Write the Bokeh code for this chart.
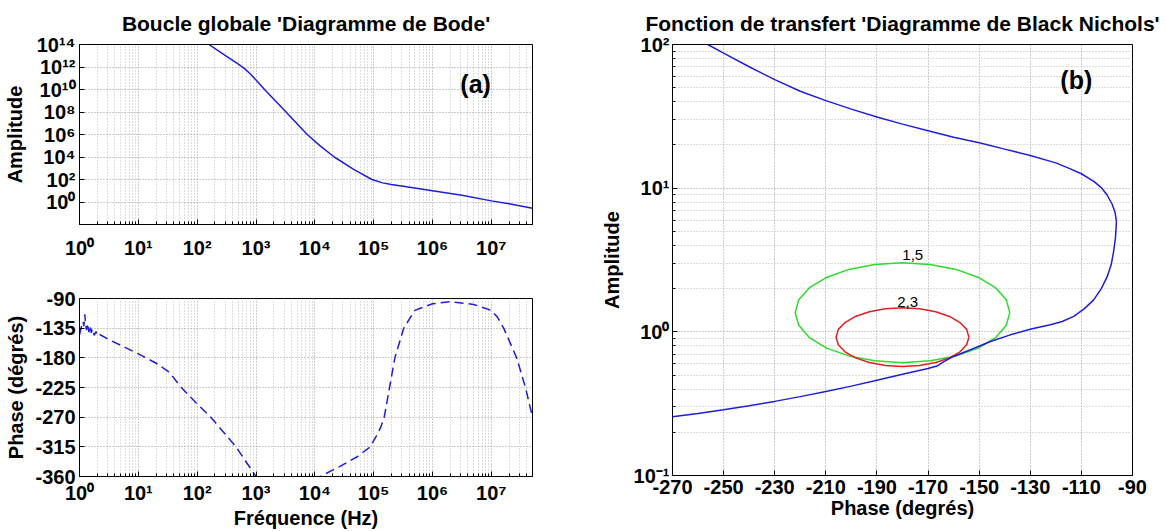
from bokeh.plotting import figure
from bokeh.models import FixedTicker, Range1d
from bokeh.layouts import row, column
from bokeh.embed import file_html
from bokeh.resources import INLINE
from bokeh.core.properties import value

FONT = "Liberation Sans"
BLUE = "#1f1fd2"
GREEN = "#2fd82f"
RED = "#e02020"

# ---------------- data ----------------
bode_freq = [158, 316, 501, 631, 794, 1000, 1396, 3236, 7413, 12589, 21380, 45709,
             93325, 141254, 199526, 316228, 1e6, 3.16e6, 1e7, 2e7, 5e7]
bode_amp = [1e14, 8.9e12, 1.78e12, 7.6e11, 2.5e11, 7.1e10, 1e10, 1e8, 1e6, 8.9e4, 1e4, 794,
            100, 50, 35.5, 25, 10, 4, 1.26, 0.71, 0.28]

phase_freq = [1.0, 1.047, 1.096, 1.148, 1.189, 1.23, 1.274, 1.318, 1.38, 1.445,
              1.514, 1.585, 1.66, 1.778, 1.905, 2.04, 2.24, 2.95, 10, 20.9, 31.6,
              39.8, 50.1, 70.8, 100, 170, 457, 1000, 3160, 1.23e4, 2.63e4, 5.25e4,
              8.7e4, 1.12e5, 1.32e5, 1.51e5, 1.86e5, 2.29e5, 3.24e5, 5.0e5, 1e6, 2e6,
              5e6, 1e7, 1.26e7, 1.62e7, 2.69e7, 3.8e7, 5e7]
phase_deg = [-145, -138, -130, -125, -132, -114, -130, -138, -128, -141,
             -131, -142, -136, -146, -140, -147, -145, -151, -174, -189, -200,
             -210, -222, -236, -250, -270, -315, -360, -385, -360, -345, -330,
             -315, -298, -285, -270, -225, -180, -135, -108, -98, -95,
             -99, -108, -118, -135, -180, -225, -270]

nichols_phase = [-256.2, -250, -240, -230, -220, -210, -200, -190, -180, -170, -160,
                 -150, -140, -130, -120, -115, -110, -105, -102, -100, -98, -96.8,
                 -96.3, -96.5, -96.7, -97.3, -98.3, -99.9, -102.2, -105.2, -108.8,
                 -113, -117.5, -122.1, -129.7, -137.8, -145.6, -153.4, -160, -164,
                 -166.5, -170, -180, -190, -200, -210, -220, -230, -240, -250, -260, -270]
nichols_amp = [100, 87.1, 70, 56.9, 47.3, 40.7, 35.5, 31.3, 27.9, 25.1, 22.6,
               20.7, 18.7, 16.9, 15.0, 13.8, 12.6, 11.1, 10.0, 9.0, 7.76, 6.76,
               5.89, 5.0, 4.47, 3.71, 2.95, 2.42, 2.0, 1.67, 1.45,
               1.28, 1.18, 1.12, 1.045, 0.953, 0.857, 0.75, 0.674, 0.617,
               0.578, 0.556, 0.507, 0.460, 0.419, 0.384, 0.354, 0.328, 0.306, 0.287, 0.270, 0.256]

m15_phase = [-138, -139.4, -143.6, -150.3, -159, -169.1, -180, -190.9, -201, -209.7,
             -216.4, -220.6, -222, -220.6, -216.4, -209.7, -201, -190.9, -180, -169.1,
             -159, -150.3, -143.6, -139.4, -138]
m15_amp = [1.36, 1.67, 2.03, 2.39, 2.72, 2.94, 3.03, 2.94, 2.72, 2.39,
           2.03, 1.67, 1.36, 1.11, 0.91, 0.77, 0.68, 0.63, 0.61, 0.63,
           0.68, 0.77, 0.91, 1.11, 1.36]

m23_phase = [-154, -154.9, -157.5, -161.6, -167, -173.3, -180, -186.7, -193, -198.4,
             -202.5, -205.1, -206, -205.1, -202.5, -198.4, -193, -186.7, -180, -173.3,
             -167, -161.6, -157.5, -154.9, -154]
m23_amp = [0.918, 1.04, 1.16, 1.28, 1.38, 1.45, 1.47, 1.45, 1.38, 1.28,
           1.16, 1.04, 0.918, 0.813, 0.726, 0.659, 0.611, 0.583, 0.574, 0.583,
           0.611, 0.659, 0.726, 0.813, 0.918]

contour_labels = ["1,5", "2,3"]
contour_label_phase = [-176, -178]
contour_label_amp = [3.45, 1.62]

tag_a = ["(a)"]
tag_a_x = [5.4e6]
tag_a_y = [2.95e10]
tag_b = ["(b)"]
tag_b_x = [-112]
tag_b_y = [57]

freq_ticks = [1e0, 1e1, 1e2, 1e3, 1e4, 1e5, 1e6, 1e7]
freq_minor = [k * d for d in freq_ticks for k in range(2, 10)]
amp_ticks = [1e0, 1e2, 1e4, 1e6, 1e8, 1e10, 1e12, 1e14]
phase_ticks = [-360, -315, -270, -225, -180, -135, -90]
nichols_x_ticks = [-270, -250, -230, -210, -190, -170, -150, -130, -110, -90]
nichols_y_ticks = [0.1, 1, 10, 100]
nichols_y_minor = [k * d for d in [0.1, 1, 10] for k in range(2, 10)]

SUP = str.maketrans("0123456789-", "⁰¹²³⁴⁵⁶⁷⁸⁹⁻")


def pow_labels(ticks):
    out = {}
    for t in ticks:
        n = 0
        v = t
        while v >= 10 - 1e-9:
            v /= 10
            n += 1
        while v < 1 - 1e-9:
            v *= 10
            n -= 1
        out[t] = "10" + str(n).translate(SUP)
    return out


def plain_labels(ticks):
    return {t: str(t) for t in ticks}


def style(p):
    p.outline_line_color = "black"
    p.outline_line_width = 1
    p.background_fill_color = "white"
    p.border_fill_color = "white"
    for ax in p.axis:
        ax.major_label_text_font = FONT
        ax.major_label_text_font_style = "bold"
        ax.major_label_text_font_size = "20px"
        ax.major_label_text_color = "black"
        ax.axis_label_text_font = FONT
        ax.axis_label_text_font_style = "bold"
        ax.axis_label_text_font_size = "20px"
        ax.axis_label_text_color = "black"
        ax.axis_line_color = "black"
        ax.major_tick_in = 5
        ax.major_tick_out = 0
        ax.minor_tick_in = 3
        ax.minor_tick_out = 0
        ax.major_tick_line_color = "black"
        ax.minor_tick_line_color = "black"
    for g in p.grid:
        g.grid_line_color = "#9a9a9a"
        g.grid_line_dash = "1 2"
        g.minor_grid_line_color = "#bdbdbd"
        g.minor_grid_line_dash = "1 2"
    if p.title is not None:
        p.title.text_font = FONT
        p.title.text_font_style = "bold"
        p.title.text_font_size = "21px"
        p.title.text_color = "black"
        p.title.align = "center"
        p.title.standoff = 19


# ---------------- (a) amplitude ----------------
p1 = figure(width=566, height=265, x_axis_type="log", y_axis_type="log",
            x_range=Range1d(1, 5e7), y_range=Range1d(1e-2, 1e14),
            title="Boucle globale 'Diagramme de Bode'",
            output_backend="svg", toolbar_location=None,
            min_border_left=79, min_border_right=34, min_border_top=43, min_border_bottom=41)
p1.line(bode_freq, bode_amp, line_color=BLUE, line_width=1.5)
p1.text(x=tag_a_x, y=tag_a_y, text=tag_a, text_font=value(FONT), text_font_style="bold",
        text_font_size="25px", text_align="center", text_baseline="middle", text_color="black")
p1.xaxis.ticker = FixedTicker(ticks=freq_ticks, minor_ticks=freq_minor)
p1.yaxis.ticker = FixedTicker(ticks=amp_ticks, minor_ticks=[])
p1.xaxis.major_label_overrides = pow_labels(freq_ticks)
p1.yaxis.major_label_overrides = pow_labels(amp_ticks)
p1.yaxis.axis_label = "Amplitude"
style(p1)
p1.xaxis.major_label_standoff = 12
p1.yaxis.major_label_standoff = 4
p1.yaxis.axis_label_standoff = 8

# ---------------- (a) phase ----------------
p2 = figure(width=566, height=266, x_axis_type="log",
            x_range=Range1d(1, 5e7), y_range=Range1d(-360, -90),
            output_backend="svg", toolbar_location=None,
            min_border_left=79, min_border_right=34, min_border_top=33, min_border_bottom=55)
p2.line(phase_freq, phase_deg, line_color=BLUE, line_width=1.5, line_dash="9 5")
p2.xaxis.ticker = FixedTicker(ticks=freq_ticks, minor_ticks=freq_minor)
p2.yaxis.ticker = FixedTicker(ticks=phase_ticks, minor_ticks=[])
p2.xaxis.major_label_overrides = pow_labels(freq_ticks)
p2.yaxis.major_label_overrides = plain_labels(phase_ticks)
p2.xaxis.axis_label = "Fréquence (Hz)"
p2.yaxis.axis_label = "Phase (dégrés)"
style(p2)
p2.xaxis.major_label_standoff = 5
p2.xaxis.axis_label_standoff = 0
p2.yaxis.major_label_standoff = 4
p2.yaxis.axis_label_standoff = 5

# ---------------- (b) Black-Nichols ----------------
p3 = figure(width=600, height=531, y_axis_type="log",
            x_range=Range1d(-270, -90), y_range=Range1d(0.1, 100),
            title="Fonction de transfert 'Diagramme de Black Nichols'",
            output_backend="svg", toolbar_location=None,
            min_border_left=106, min_border_right=34, min_border_top=43, min_border_bottom=56)
p3.line(m15_phase, m15_amp, line_color=GREEN, line_width=1.5)
p3.line(m23_phase, m23_amp, line_color=RED, line_width=1.5)
p3.line(nichols_phase, nichols_amp, line_color=BLUE, line_width=1.5)
p3.text(x=contour_label_phase, y=contour_label_amp, text=contour_labels,
        text_font=value(FONT), text_font_size="15px", text_align="center",
        text_baseline="middle", text_color="black")
p3.text(x=tag_b_x, y=tag_b_y, text=tag_b, text_font=value(FONT), text_font_style="bold",
        text_font_size="25px", text_align="center", text_baseline="middle", text_color="black")
p3.xaxis.ticker = FixedTicker(ticks=nichols_x_ticks, minor_ticks=[])
p3.yaxis.ticker = FixedTicker(ticks=nichols_y_ticks, minor_ticks=nichols_y_minor)
p3.xaxis.major_label_overrides = plain_labels(nichols_x_ticks)
p3.yaxis.major_label_overrides = pow_labels(nichols_y_ticks)
p3.xaxis.axis_label = "Phase (degrés)"
p3.yaxis.axis_label = "Amplitude"
style(p3)
p3.xaxis.major_label_standoff = 4
p3.xaxis.axis_label_standoff = 0
p3.yaxis.major_label_standoff = 3
p3.yaxis.axis_label_standoff = 8

layout = row(column(p1, p2), p3)
open("out.html", "w").write(file_html(layout, INLINE))
